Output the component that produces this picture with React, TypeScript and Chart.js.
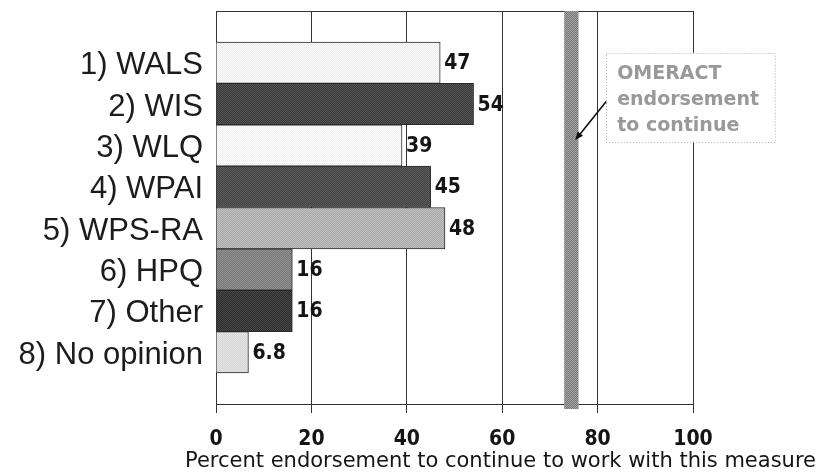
import React, { useEffect, useRef } from "react";
import { Chart, registerables } from "chart.js";

Chart.register(...registerables);

const categories = ["1) WALS", "2) WIS", "3) WLQ", "4) WPAI", "5) WPS-RA", "6) HPQ", "7) Other", "8) No opinion"];
const values = [47, 54, 39, 45, 48, 16, 16, 6.8];
const barColors = ["#f4f4f4", "#474747", "#f6f6f6", "#4f4f4f", "#b4b4b4", "#858585", "#3a3a3a", "#dddddd"];
const xTickStep = 20;
const xMin = 0;
const xMax = 100;
const thresholdBand = [73, 76];
const annotationLines = ["OMERACT", "endorsement", "to continue"];
const annotationBoxX = [81.8, 117.2];
const annotationBoxY = [0.76, 2.91];
const arrowFrom = [81.8, 1.94];
const arrowTo = [75.3, 2.87];
const xTitle = "Percent endorsement to continue to work with this measure";

function shade(hex: string, d: number) {
  const n = parseInt(hex.slice(1), 16);
  const c = (v: number) => Math.max(0, Math.min(255, v + d));
  const r = c((n >> 16) & 255), g = c((n >> 8) & 255), b = c(n & 255);
  return `rgb(${r},${g},${b})`;
}

function makePattern(hex: string, amp: number) {
  const pc = document.createElement("canvas");
  pc.width = 4;
  pc.height = 4;
  const p = pc.getContext("2d")!;
  for (let i = 0; i < 4; i++) {
    for (let j = 0; j < 4; j++) {
      p.fillStyle = (i + j) % 2 === 0 ? shade(hex, amp) : shade(hex, -amp);
      p.fillRect(i, j, 1, 1);
    }
  }
  return p.createPattern(pc, "repeat")!;
}

export default function App() {
  const ref = useRef<HTMLCanvasElement | null>(null);

  useEffect(() => {
    const canvas = ref.current!;
    const tickFont = { family: "'DejaVu Sans Condensed', 'DejaVu Sans', sans-serif", size: 21, weight: "bold" as const };

    const framePlugin = {
      id: "frame",
      beforeDatasetsDraw(chart: any) {
        const { ctx, chartArea, scales } = chart;
        const x = scales.x;
        ctx.save();
        ctx.strokeStyle = "#333";
        ctx.lineWidth = 1;
        ctx.beginPath();
        ctx.moveTo(chartArea.left, chartArea.top + 0.5);
        ctx.lineTo(chartArea.right, chartArea.top + 0.5);
        ctx.stroke();
        const x0 = x.getPixelForValue(thresholdBand[0]);
        const x1 = x.getPixelForValue(thresholdBand[1]);
        ctx.fillStyle = makePattern("#8e8e8e", 22);
        ctx.fillRect(x0, chartArea.top, x1 - x0, chartArea.bottom - chartArea.top + 5);
        ctx.restore();
      },
    };

    const labelPlugin = {
      id: "valueLabels",
      afterDatasetsDraw(chart: any) {
        const { ctx } = chart;
        const meta = chart.getDatasetMeta(0);
        ctx.save();
        ctx.font = `bold 21px 'DejaVu Sans Condensed', 'DejaVu Sans', sans-serif`;
        ctx.fillStyle = "#151515";
        ctx.textAlign = "left";
        ctx.textBaseline = "middle";
        meta.data.forEach((el: any, i: number) => {
          ctx.fillText(String(values[i]), el.x + 4, el.y + 1);
        });
        ctx.restore();
      },
    };

    const annotationPlugin = {
      id: "annot",
      afterDraw(chart: any) {
        const { ctx, scales } = chart;
        const x = scales.x, y = scales.y;
        ctx.save();
        const bx0 = x.getPixelForValue(annotationBoxX[0]);
        const bx1 = x.getPixelForValue(annotationBoxX[1]);
        const by0 = y.getPixelForValue(annotationBoxY[0]);
        const by1 = y.getPixelForValue(annotationBoxY[1]);
        ctx.fillStyle = "#ffffff";
        ctx.fillRect(bx0, by0, bx1 - bx0, by1 - by0);
        ctx.strokeStyle = "#aaaaaa";
        ctx.setLineDash([1, 2]);
        ctx.lineWidth = 1;
        ctx.strokeRect(Math.round(bx0) + 0.5, Math.round(by0) + 0.5, bx1 - bx0, by1 - by0);
        ctx.setLineDash([]);
        ctx.fillStyle = "#999999";
        ctx.font = `bold 19px 'DejaVu Sans', sans-serif`;
        ctx.textAlign = "left";
        ctx.textBaseline = "alphabetic";
        annotationLines.forEach((t, i) => {
          ctx.fillText(t, bx0 + 11, by0 + 26.5 + i * 25.7);
        });
        const ax0 = x.getPixelForValue(arrowFrom[0]);
        const ay0 = y.getPixelForValue(arrowFrom[1]);
        const ax1 = x.getPixelForValue(arrowTo[0]);
        const ay1 = y.getPixelForValue(arrowTo[1]);
        const ang = Math.atan2(ay1 - ay0, ax1 - ax0);
        const hl = 9;
        ctx.strokeStyle = "#111";
        ctx.fillStyle = "#111";
        ctx.lineWidth = 1.6;
        ctx.beginPath();
        ctx.moveTo(ax0, ay0);
        ctx.lineTo(ax1 - Math.cos(ang) * hl * 0.7, ay1 - Math.sin(ang) * hl * 0.7);
        ctx.stroke();
        ctx.beginPath();
        ctx.moveTo(ax1, ay1);
        ctx.lineTo(ax1 - hl * Math.cos(ang - 0.4), ay1 - hl * Math.sin(ang - 0.4));
        ctx.lineTo(ax1 - hl * Math.cos(ang + 0.4), ay1 - hl * Math.sin(ang + 0.4));
        ctx.closePath();
        ctx.fill();
        ctx.fillStyle = "#151515";
        ctx.font = `21px 'DejaVu Sans', sans-serif`;
        ctx.textAlign = "left";
        ctx.textBaseline = "alphabetic";
        ctx.fillText(xTitle, chart.chartArea.left - 31, chart.chartArea.bottom + 63);
        ctx.restore();
      },
    };

    const chart = new Chart(canvas, {
      type: "bar",
      data: {
        datasets: [
          {
            data: values.map((v, i) => ({ x: v, y: i + 1 })),
            backgroundColor: barColors.map((c) => makePattern(c, c > "#c0" ? 6 : 14)),
            borderColor: "#2a2a2a",
            borderWidth: 1,
            barPercentage: 1,
            categoryPercentage: 1,
          } as any,
        ],
      },
      options: {
        indexAxis: "y",
        responsive: false,
        animation: false,
        devicePixelRatio: 1,
        layout: { padding: { top: 11, right: 130, left: 0, bottom: 0 } },
        plugins: { legend: { display: false }, tooltip: { enabled: false } },
        scales: {
          x: {
            type: "linear",
            position: "bottom",
            min: xMin,
            max: xMax,
            offset: false,
            ticks: { stepSize: xTickStep, font: tickFont, color: "#151515", padding: 14 },
            grid: { color: "#333", lineWidth: 1, tickLength: 9, drawTicks: true, offset: false },
            border: { display: true, color: "#333" },
            afterFit: (s: any) => {
              s.height = 69;
              s.paddingLeft = 0;
              s.paddingRight = 0;
            },
          },
          y: {
            type: "linear",
            bounds: "data",
            offset: false,
            min: -0.25,
            max: 9.25,
            reverse: true,
            afterBuildTicks: (s: any) => {
              s.ticks = categories.map((_, i) => ({ value: i + 1 }));
            },
            ticks: {
              autoSkip: false,
              stepSize: 1,
              callback: (v: any) => categories[Number(v) - 1] ?? "",
              font: { family: "'Liberation Sans', Arial, sans-serif", size: 31 },
              color: "#1c1c1c",
              padding: 13,
              labelOffset: 3,
            },
            grid: { display: false, drawTicks: false, offset: false },
            border: { display: true, color: "#333" },
            afterFit: (s: any) => {
              s.width = 216;
              s.paddingTop = 0;
              s.paddingBottom = 0;
            },
          },
        },
      } as any,
      plugins: [framePlugin, labelPlugin, annotationPlugin],
    });
    return () => chart.destroy();
  }, []);

  return (
    <div style={{ position: "absolute", left: 0, top: 0, width: 823, height: 473, background: "#fff" }}>
      <canvas ref={ref} width={823} height={473} style={{ display: "block" }} />
    </div>
  );
}
